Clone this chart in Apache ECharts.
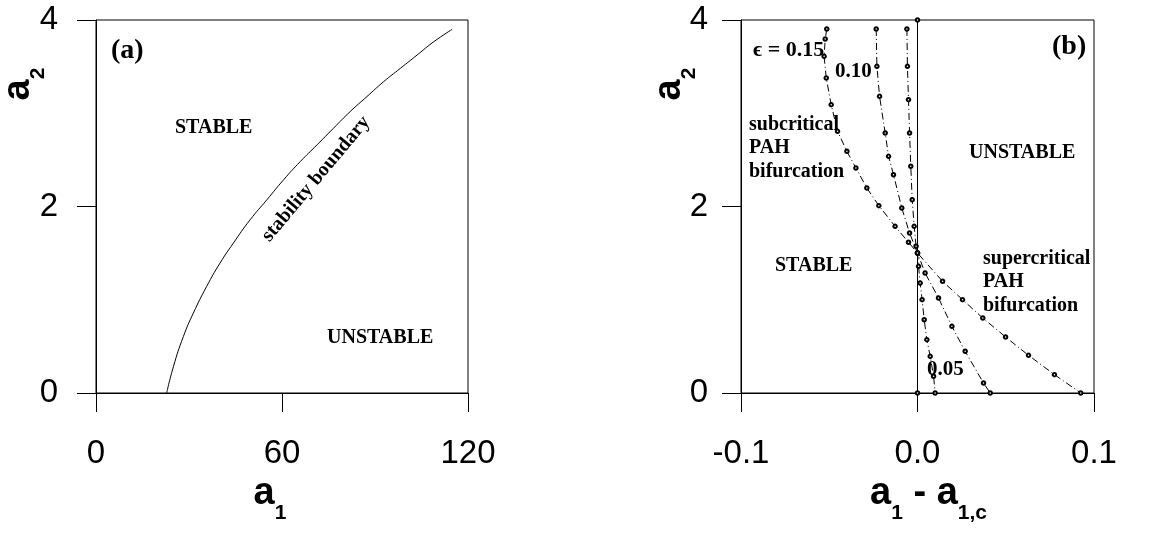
<!DOCTYPE html>
<html><head><meta charset="utf-8">
<script src="https://cdn.jsdelivr.net/npm/echarts@6/dist/echarts.min.js"></script>
<style>html,body{margin:0;padding:0;background:#fff}#c{width:1167px;height:538px}</style>
</head><body><div id="c"></div>
<script>
// Panel (a): stability boundary
const boundaryA1 = [22.8, 25.0, 28.2, 31.4, 35.7, 40.0, 44.3, 49.7, 55.1, 60.5, 65.9, 71.3, 76.6, 82.0, 87.4, 92.8, 98.2, 103.6, 109.0, 114.9];
const boundaryA2 = [0, 0.286, 0.607, 0.857, 1.143, 1.393, 1.607, 1.857, 2.071, 2.286, 2.482, 2.661, 2.839, 3.018, 3.179, 3.339, 3.482, 3.625, 3.768, 3.90];
// Panel (b): a1 - a1c vs a2 for several epsilon
const eps015X = [-0.0514, -0.0523, -0.0529, -0.0517, -0.0489, -0.0453, -0.0400, -0.0349, -0.0287, -0.0219, -0.0127, -0.0051, 0, 0.0142, 0.0255, 0.0370, 0.0499, 0.0629, 0.0776, 0.0925];
const eps015Y = [3.904, 3.796, 3.610, 3.378, 3.092, 2.806, 2.592, 2.413, 2.198, 2.009, 1.787, 1.616, 1.501, 1.198, 1.001, 0.804, 0.601, 0.404, 0.197, 0];
const eps010X = [-0.0234, -0.0230, -0.0215, -0.0183, -0.0164, -0.0136, -0.0089, -0.0045, 0, 0.0043, 0.0119, 0.0195, 0.0270, 0.0374, 0.0412];
const eps010Y = [3.904, 3.503, 3.181, 2.788, 2.538, 2.341, 1.984, 1.716, 1.501, 1.287, 1.019, 0.715, 0.447, 0.107, 0];
const eps005X = [-0.0060, -0.0057, -0.0051, -0.0045, -0.0038, -0.0030, -0.0019, -0.0008, 0, 0.0006, 0.0015, 0.0026, 0.0038, 0.0053, 0.0072, 0.0091, 0.0100];
const eps005Y = [3.904, 3.503, 3.146, 2.788, 2.431, 2.073, 1.787, 1.573, 1.501, 1.358, 1.180, 1.001, 0.786, 0.572, 0.393, 0.179, 0];
const eps000X = [0, 0];
const eps000Y = [0, 4];
// Ticks
const xTicksA = [0, 60, 120];
const xTicksB = [-0.1, 0.0, 0.1];
const yTicks = [0, 2, 4];

const zip = (xs, ys) => xs.map((x, i) => [x, ys[i]]);
const SANS = 'Liberation Sans, Arial, sans-serif';
const SERIF = 'Liberation Serif, Times New Roman, serif';
const richName = {
  a: {fontSize: 38, fontWeight: 'bold', fontFamily: SANS, color: '#000', lineHeight: 44, verticalAlign: 'top'},
  s: {fontSize: 21, fontWeight: 'bold', fontFamily: SANS, color: '#000', lineHeight: 21, padding: [28, 0, 0, 0], verticalAlign: 'top'}
};

function xAxisCfg(grid, min, max, interval, name, fmt, pad) {
  return {
    gridIndex: grid, type: 'value', min, max, interval,
    axisLine: {show: true, onZero: false, lineStyle: {color: '#000', width: 1}},
    axisTick: {show: true, inside: false, length: 19, lineStyle: {color: '#000', width: 1}},
    axisLabel: {fontSize: 33, color: '#000', fontFamily: SANS, margin: 44, formatter: fmt},
    splitLine: {show: false},
    name, nameLocation: 'middle', nameGap: 82,
    nameTextStyle: {rich: richName, padding: pad}
  };
}
function yAxisCfg(grid, margin) {
  return {
    gridIndex: grid, type: 'value', min: yTicks[0], max: yTicks[yTicks.length - 1], interval: yTicks[1] - yTicks[0],
    axisLine: {show: true, onZero: false, lineStyle: {color: '#000', width: 1}},
    axisTick: {show: true, inside: false, length: 19, lineStyle: {color: '#000', width: 1}},
    axisLabel: {fontSize: 33, color: '#000', fontFamily: SANS, margin},
    splitLine: {show: false}
  };
}
const fmtB = v => (Math.abs(v) < 1e-9 ? 0 : v).toFixed(1);

const curveStyle = {
  type: 'line', xAxisIndex: 1, yAxisIndex: 1, symbol: 'emptyCircle', symbolSize: 3.5,
  lineStyle: {color: '#000', width: 1, type: [7, 3, 1, 3]},
  itemStyle: {color: '#000', borderWidth: 1}, silent: true, animation: false
};

function txt(x, y, text, size, extra) {
  return {
    type: 'text', x, y,
    style: Object.assign({text, font: 'bold ' + size + 'px ' + SERIF, fill: '#000', align: 'left', verticalAlign: 'middle'}, extra || {})
  };
}

const option = {
  backgroundColor: '#fff',
  animation: false,
  grid: [
    {left: 96, top: 20, width: 372, height: 373, show: true, borderColor: '#000', borderWidth: 1},
    {left: 741, top: 20, width: 353, height: 373, show: true, borderColor: '#000', borderWidth: 1}
  ],
  xAxis: [
    xAxisCfg(0, xTicksA[0], xTicksA[2], xTicksA[1] - xTicksA[0], '{a|a}{s|1}', undefined, [0, 24, 0, 0]),
    xAxisCfg(1, xTicksB[0], xTicksB[2], 0.1, '{a|a}{s|1}{a| - a}{s|1,c}', fmtB, [0, 0, 0, 22])
  ],
  yAxis: [yAxisCfg(0, 38), yAxisCfg(1, 33)],
  series: [
    {type: 'line', xAxisIndex: 0, yAxisIndex: 0, data: zip(boundaryA1, boundaryA2), smooth: true, showSymbol: false,
     lineStyle: {color: '#000', width: 1}, silent: true},
    {type: 'line', xAxisIndex: 1, yAxisIndex: 1, data: zip(eps000X, eps000Y), symbol: 'emptyCircle', symbolSize: 3.5,
     showAllSymbol: true, lineStyle: {color: '#000', width: 1}, itemStyle: {color: '#000'}, silent: true},
    Object.assign({}, curveStyle, {data: zip(eps015X, eps015Y)}),
    Object.assign({}, curveStyle, {data: zip(eps010X, eps010Y)}),
    Object.assign({}, curveStyle, {data: zip(eps005X, eps005Y)})
  ],
  graphic: [
    {type: 'text', x: 22, y: 84, rotation: Math.PI / 2,
     style: {text: '{a|a}{s|2}', rich: richName, align: 'center', verticalAlign: 'middle'}},
    {type: 'text', x: 673, y: 84, rotation: Math.PI / 2,
     style: {text: '{a|a}{s|2}', rich: richName, align: 'center', verticalAlign: 'middle'}},
    txt(111, 51, '(a)', 28),
    txt(175, 128, 'STABLE', 20),
    txt(327, 338, 'UNSTABLE', 20),
    {type: 'text', x: 316, y: 179, rotation: 50 * Math.PI / 180,
     style: {text: 'stability boundary', font: 'bold 20px ' + SERIF, fill: '#000', align: 'center', verticalAlign: 'middle'}},
    txt(1052, 47, '(b)', 28),
    txt(753, 50, 'ϵ = 0.15', 22),
    txt(835, 72, '0.10', 21),
    txt(749, 113, 'subcritical\nPAH\nbifurcation', 20, {lineHeight: 23.5, verticalAlign: 'top'}),
    txt(969, 153, 'UNSTABLE', 20),
    txt(775, 266, 'STABLE', 20),
    txt(983, 247, 'supercritical\nPAH\nbifurcation', 20, {lineHeight: 23.5, verticalAlign: 'top'}),
    txt(927, 370, '0.05', 21)
  ]
};

const chart = echarts.init(document.getElementById('c'), null, {renderer: 'canvas'});
chart.setOption(option);
</script>
</body></html>
